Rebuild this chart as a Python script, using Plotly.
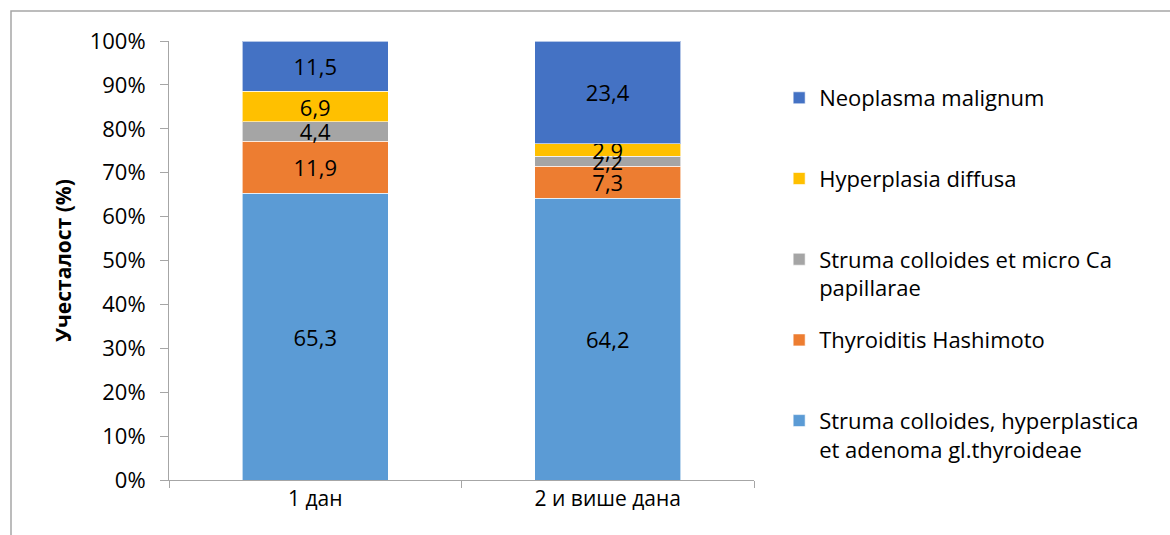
import plotly.graph_objects as go

categories = ["1 дан", "2 и више дана"]

series_names = [
    "Struma colloides, hyperplastica<br>et adenoma gl.thyroideae",
    "Thyroiditis Hashimoto",
    "Struma colloides et micro Ca<br>papillarae",
    "Hyperplasia diffusa",
    "Neoplasma malignum",
]
struma_hyperplastica = [65.3, 64.2]
thyroiditis_hashimoto = [11.9, 7.3]
struma_micro_ca = [4.4, 2.2]
hyperplasia_diffusa = [6.9, 2.9]
neoplasma_malignum = [11.5, 23.4]

series_values = [
    struma_hyperplastica,
    thyroiditis_hashimoto,
    struma_micro_ca,
    hyperplasia_diffusa,
    neoplasma_malignum,
]
colors = ["#5B9BD5", "#ED7D31", "#A5A5A5", "#FFC000", "#4472C4"]

FONT = "Open Sans, sans-serif"
AXIS_GRAY = "#A6A6A6"

fig = go.Figure()
n = len(series_names)
for i, (name, vals, col) in enumerate(zip(series_names, series_values, colors)):
    # pad one-line entries to two lines so every legend row has equal height
    label = name if "<br>" in name else name + "<br>&nbsp;"
    fig.add_trace(go.Bar(
        x=categories,
        y=vals,
        name=label,
        legendgroup=name,
        legendrank=n - i,
        marker=dict(color=col, line=dict(color="rgba(255,255,255,0.6)", width=1)),
        width=0.5,
        texttemplate="%{y:.1f}",
        textposition="inside",
        insidetextanchor="middle",
        textangle=0,
        constraintext="none",
        insidetextfont=dict(family=FONT, size=22, color="#000000"),
    ))

fig.update_layout(
    barmode="stack",
    separators=",.",
    width=1170,
    height=535,
    margin=dict(l=169, r=416, t=41, b=55),
    paper_bgcolor="white",
    plot_bgcolor="white",
    font=dict(family=FONT, size=22, color="#000000"),
    legend=dict(
        x=1.043, xanchor="left",
        y=0.918, yanchor="top",
        traceorder="grouped",
        tracegroupgap=20.5,
        valign="top",
        font=dict(family=FONT, size=22, color="#000000"),
        bgcolor="rgba(0,0,0,0)",
    ),
    xaxis=dict(
        type="category",
        showline=True, linecolor=AXIS_GRAY, linewidth=1,
        ticks="outside", tickson="boundaries", ticklen=7, tickcolor=AXIS_GRAY,
        showgrid=False, zeroline=False,
        tickfont=dict(family=FONT, size=21),
    ),
    yaxis=dict(
        range=[0, 100],
        tickvals=[0, 10, 20, 30, 40, 50, 60, 70, 80, 90, 100],
        ticktext=[f"{v}%" for v in range(0, 101, 10)],
        showline=True, linecolor=AXIS_GRAY, linewidth=1,
        ticks="outside", ticklen=8, tickcolor=AXIS_GRAY,
        ticklabelstandoff=10,
        showgrid=False, zeroline=False,
        tickfont=dict(family=FONT, size=22),
        title=dict(text="<b>Учесталост (%)</b>", font=dict(family=FONT, size=21), standoff=12),
    ),
    shapes=[dict(
        type="rect", xref="paper", yref="paper",
        x0=(11 - 169) / 585, x1=(1190 - 169) / 585,
        y0=(480 - 560) / 439, y1=(480 - 11) / 439,
        line=dict(color=AXIS_GRAY, width=1.5),
        fillcolor="rgba(0,0,0,0)",
        layer="below",
    )],
)

fig.write_html("out.html")
